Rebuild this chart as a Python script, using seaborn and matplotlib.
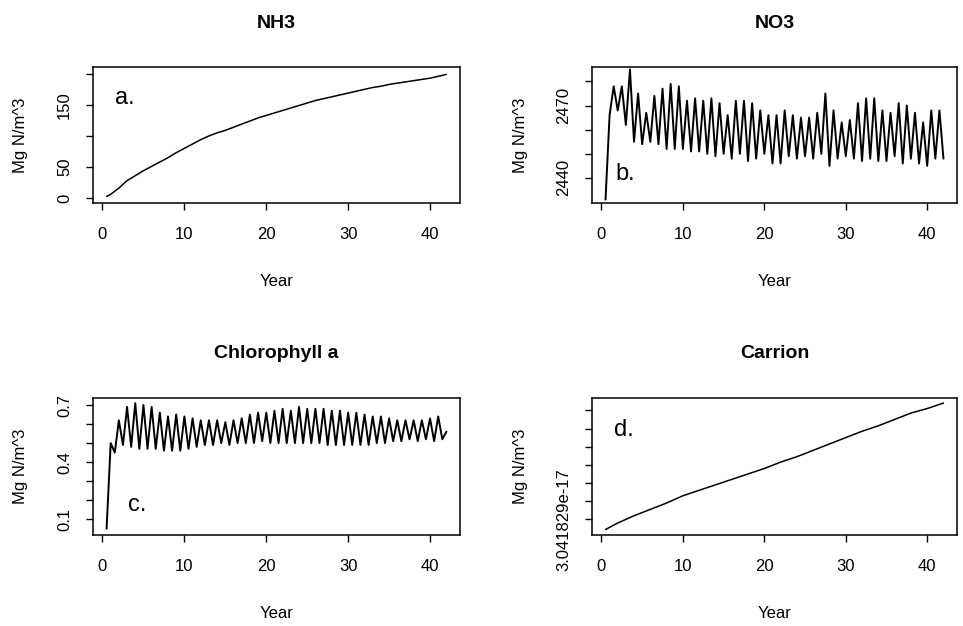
import numpy as np
import pandas as pd
import matplotlib
matplotlib.use("Agg")
import matplotlib.pyplot as plt
import seaborn as sns

sns.set_style("ticks")
plt.rcParams['font.family'] = ['Liberation Sans', 'DejaVu Sans']
plt.rcParams['text.color'] = 'black'
plt.rcParams['axes.labelcolor'] = 'black'
plt.rcParams['xtick.color'] = 'black'
plt.rcParams['ytick.color'] = 'black'

# ---------------- data ----------------
nh3_year = [0.5] + list(range(1, 43))
nh3 = [2.5, 6, 16, 28, 36, 44, 51, 58, 65, 73, 80, 87, 94, 100, 105, 109, 114,
       119, 124, 129, 133, 137, 141, 145, 149, 153, 157, 160, 163, 166, 169,
       172, 175, 178, 180, 183, 185, 187, 189, 191, 193, 196, 199]

half_year = list(np.arange(0.5, 42.01, 0.5))
no3 = [2431, 2466, 2478, 2468, 2478, 2462, 2485, 2455, 2475, 2454,
       2467, 2455, 2474, 2454, 2477, 2452, 2479, 2452, 2478, 2452,
       2472, 2451, 2473, 2451, 2472, 2450, 2473, 2449, 2471, 2450,
       2466, 2448, 2472, 2450, 2472, 2447, 2471, 2448, 2468, 2450,
       2466, 2446, 2466, 2446, 2468, 2449, 2466, 2448, 2465, 2449,
       2465, 2448, 2467, 2450, 2475, 2445, 2468, 2448, 2463, 2449,
       2464, 2448, 2471, 2447, 2473, 2448, 2473, 2447, 2468, 2447,
       2467, 2449, 2471, 2446, 2470, 2448, 2467, 2446, 2463, 2445,
       2468, 2448, 2468, 2448]

chl = [0.05, 0.50, 0.45, 0.62, 0.49, 0.69, 0.48, 0.71, 0.47, 0.70,
       0.47, 0.69, 0.47, 0.66, 0.46, 0.64, 0.46, 0.65, 0.46, 0.64,
       0.47, 0.63, 0.48, 0.62, 0.49, 0.62, 0.49, 0.62, 0.50, 0.61,
       0.49, 0.62, 0.50, 0.63, 0.50, 0.65, 0.50, 0.66, 0.51, 0.66,
       0.50, 0.67, 0.50, 0.68, 0.50, 0.67, 0.50, 0.69, 0.50, 0.68,
       0.50, 0.68, 0.50, 0.68, 0.49, 0.67, 0.49, 0.67, 0.49, 0.66,
       0.49, 0.66, 0.49, 0.65, 0.49, 0.64, 0.50, 0.64, 0.50, 0.63,
       0.51, 0.62, 0.51, 0.62, 0.52, 0.62, 0.51, 0.62, 0.52, 0.63,
       0.51, 0.64, 0.52, 0.56]

carrion_year = [0.5, 2, 4, 6, 8, 10, 12, 14, 16, 18, 20, 22, 24, 26, 28, 30,
                32, 34, 36, 38, 40, 42]
# carrion values in units of the (unlabelled) tick step above 3.041829e-17
carrion = [-0.56, -0.2, 0.2, 0.55, 0.9, 1.3, 1.6, 1.9, 2.2, 2.5, 2.8, 3.15,
           3.45, 3.8, 4.15, 4.5, 4.85, 5.15, 5.5, 5.85, 6.1, 6.4]

titles = ["NH3", "NO3", "Chlorophyll a", "Carrion"]
letters = ["a.", "b.", "c.", "d."]
x_ticks = [0, 10, 20, 30, 40]
nh3_ticks = [0, 50, 100, 150, 200]
nh3_ticklabels = ["0", "50", "", "150", ""]
no3_ticks = [2440, 2450, 2460, 2470, 2480]
no3_ticklabels = ["2440", "", "", "2470", ""]
chl_ticks = [0.1, 0.2, 0.3, 0.4, 0.5, 0.6, 0.7]
chl_ticklabels = ["0.1", "", "", "0.4", "", "", "0.7"]
car_ticks = [0, 1, 2, 3, 4, 5, 6]
car_ticklabels = ["3.041829e-17", "", "", "", "", "", ""]
ylab = "Mg N/m^3"
xlab = "Year"

# ---------------- figure ----------------
W, H = 963, 626
fig = plt.figure(figsize=(W / 100, H / 100), dpi=100)

def rect(l, r, t, b):
    return [l / W, 1 - b / H, (r - l) / W, (b - t) / H]

axes = [fig.add_axes(rect(93, 460, 67, 203)),
        fig.add_axes(rect(592, 957, 67, 203)),
        fig.add_axes(rect(93, 460, 398, 535)),
        fig.add_axes(rect(592, 957, 398, 535))]

series = [(nh3_year, nh3), (half_year, no3), (half_year, chl), (carrion_year, carrion)]
ylims = [(-8, 211), (2429.6, 2486), (0.017, 0.737), (-0.86, 6.68)]
yticks = [(nh3_ticks, nh3_ticklabels), (no3_ticks, no3_ticklabels),
          (chl_ticks, chl_ticklabels), (car_ticks, car_ticklabels)]
letter_pos = [(1.5, 161), (1.7, 2441.5), (3.1, 0.175), (1.5, 4.9)]
line_w = [1.1, 1.4, 1.4, 1.1]

for i, ax in enumerate(axes):
    xs, ys = series[i]
    df = pd.DataFrame({"x": xs, "y": ys})
    sns.lineplot(data=df, x="x", y="y", ax=ax, color="black", linewidth=line_w[i],
                 estimator=None, sort=False)
    ax.set_xlim(-1.16, 43.66)
    ax.set_ylim(*ylims[i])
    ax.set_xticks(x_ticks)
    ax.set_xticklabels([str(v) for v in x_ticks])
    ax.set_yticks(yticks[i][0])
    ax.set_yticklabels(yticks[i][1], rotation=90, va="center")
    ax.tick_params(axis="both", direction="out", length=5, width=1,
                   colors="black", labelsize=12)
    ax.tick_params(axis="x", pad=12)
    ax.tick_params(axis="y", pad=10)
    for s in ax.spines.values():
        s.set_visible(True)
        s.set_linewidth(1.1)
        s.set_color("black")
    ax.set_xlabel(xlab, fontsize=12, color="black")
    ax.set_ylabel(ylab, fontsize=12, color="black")
    h = ax.get_position().height * H
    w = ax.get_position().width * W
    ax.xaxis.set_label_coords(0.5, -78 / h)
    ax.xaxis.label.set_va("center")
    ax.yaxis.set_label_coords(-72 / w, 0.5)
    ax.yaxis.label.set_va("center")
    ax.text(0.5, 1 + 44 / h, titles[i], transform=ax.transAxes, ha="center",
            va="center", fontsize=14, fontweight="bold", color="black")
    ax.text(letter_pos[i][0], letter_pos[i][1], letters[i], ha="left",
            va="center", fontsize=17, color="black")

fig.savefig("out.png", dpi=100)
